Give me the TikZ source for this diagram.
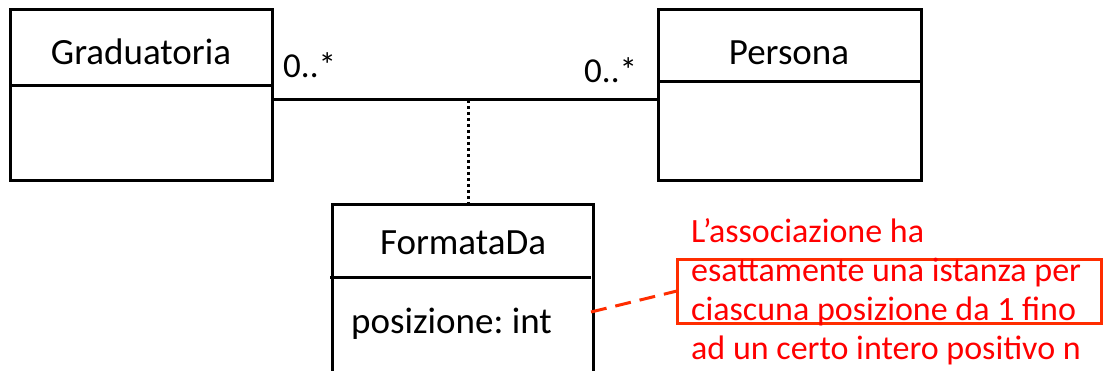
\documentclass[tikz,border=0pt]{standalone}
\usepackage{fontspec}
\setmainfont{Carlito}
\frenchspacing
\definecolor{notered}{RGB}{255,0,0}
\definecolor{noteline}{RGB}{255,45,0}
\begin{document}
\begin{tikzpicture}[x=1pt,y=-1pt,
  classbox/.style={draw,line width=3pt,rectangle,inner sep=0pt},
  lbl/.style={font=\fontsize{37}{44}\selectfont,inner sep=0pt,anchor=base},
  mult/.style={font=\fontsize{35}{42}\selectfont,inner sep=0pt,anchor=base west},
  assoc/.style={line width=3pt},
  notetext/.style={text=notered,font=\fontsize{34}{39}\selectfont,align=left,inner sep=0pt,anchor=north west}]
\useasboundingbox (0,0) rectangle (1104,371);
\clip (0,0) rectangle (1104,371);
% classes
\node[classbox,minimum width=262pt,minimum height=171pt] (grad) at (141,95.5) {};
\draw[line width=3pt] (10,86) -- (272,86);
\node[lbl] (gradname) at (141,65) {Graduatoria};
\node[classbox,minimum width=263pt,minimum height=171pt] (pers) at (789.5,95.5) {};
\draw[line width=3pt] (658,82) -- (921,82);
\node[lbl] (persname) at (789,65) {Persona};
\node[classbox,minimum width=261pt,minimum height=200pt] (form) at (462.5,305) {};
\draw[line width=3pt] (330,278) -- (591,278);
\node[lbl] (formname) at (463,255) {FormataDa};
\node[lbl,anchor=base west] (attr) at (351,334) {posizione: int};
% association
\draw[assoc] (grad.east |- 0,100) -- (pers.west |- 0,100);
\coordinate (mid) at (468,100);
\draw[line width=3pt,dash pattern=on 3pt off 3pt] (mid) -- (form.north -| mid);
\node[mult] (m1) at (283,78) {0..*};
\node[mult] (m2) at (584,83) {0..*};
% note
\draw[noteline,line width=3pt] (677,260) rectangle (1101,324);
\coordinate (noteanchor) at (677,291);
\coordinate (attrend) at (591,312);
\draw[noteline,line width=3pt,dash pattern=on 16pt off 9pt] (attrend) -- (noteanchor);
\node[notetext] (note) at (691,218.5) {L’associazione ha\\esattamente una istanza per\\ciascuna posizione da 1 fino\\ad un certo intero positivo n};
\end{tikzpicture}
\end{document}
